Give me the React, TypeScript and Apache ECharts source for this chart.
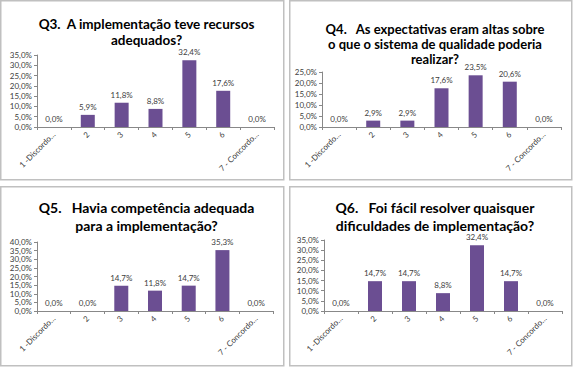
import React, { useEffect, useRef } from "react";
import * as echarts from "echarts";

const categories = ["1 -Discordo…", "2", "3", "4", "5", "6", "7 - Concordo…"];
const q3Values = [0.0, 5.9, 11.8, 8.8, 32.4, 17.6, 0.0];
const q4Values = [0.0, 2.9, 2.9, 17.6, 23.5, 20.6, 0.0];
const q5Values = [0.0, 0.0, 14.7, 11.8, 14.7, 35.3, 0.0];
const q6Values = [0.0, 14.7, 14.7, 8.8, 32.4, 14.7, 0.0];
const titles = [
  "Q3.  A implementação teve recursos\nadequados?",
  "Q4.   As expectativas eram altas sobre\no que o sistema de qualidade poderia\nrealizar?",
  "Q5.   Havia competência adequada\npara a implementação?",
  "Q6.   Foi fácil resolver quaisquer\ndificuldades de implementação?",
];
const yMax = [35, 25, 40, 35];

const fmt = (v: number) => v.toFixed(1).replace(".", ",") + "%";

export default function App() {
  const ref = useRef<HTMLDivElement>(null);
  useEffect(() => {
    document.body.style.margin = "0";
    const chart = echarts.init(ref.current!, undefined, { renderer: "svg" });
    const panels = [
      { x: 0, y: 0, w: 283, h: 179 },
      { x: 289, y: 0, w: 282, h: 179 },
      { x: 0, y: 186, w: 283, h: 179 },
      { x: 289, y: 186, w: 282, h: 179 },
    ];
    const grids = [
      { left: 37, top: 55, width: 237, height: 72 },
      { left: 322, top: 72, width: 239, height: 55 },
      { left: 37, top: 242, width: 236, height: 69 },
      { left: 324, top: 240, width: 238, height: 71 },
    ];
    const titleTops = [11, 16, 193, 193];
    const fontSizes = [13.5, 13, 14, 14];
    const lineHeights = [16, 15, 18, 18];
    const data = [q3Values, q4Values, q5Values, q6Values];
    const font = "Lato, 'Open Sans', sans-serif";
    chart.setOption({
      animation: false,
      title: titles.map((t, i) => ({
        text: t,
        left: panels[i].x + panels[i].w / 2,
        top: titleTops[i],
        textAlign: "center",
        textStyle: {
          fontFamily: font,
          fontSize: fontSizes[i],
          fontWeight: "bold",
          color: "#000",
          lineHeight: lineHeights[i],
        },
      })),
      graphic: panels.map((p) => ({
        type: "rect",
        shape: { x: p.x + 0.75, y: p.y + 0.75, width: p.w, height: p.h },
        style: { fill: "none", stroke: "#c0c0c0", lineWidth: 1.5 },
        silent: true,
      })),
      grid: grids,
      xAxis: grids.map((_, i) => ({
        type: "category",
        gridIndex: i,
        data: categories,
        axisLine: { lineStyle: { color: "#888888", width: 1 } },
        axisTick: { show: true, length: 3, lineStyle: { color: "#888888" } },
        axisLabel: {
          interval: 0,
          rotate: 45,
          fontSize: 8,
          color: "#404040",
          fontFamily: font,
          margin: 6,
        },
      })),
      yAxis: grids.map((_, i) => ({
        type: "value",
        gridIndex: i,
        min: 0,
        max: yMax[i],
        interval: 5,
        splitLine: { show: false },
        axisLine: { show: true, lineStyle: { color: "#888888", width: 1 } },
        axisTick: { show: true, length: 3, lineStyle: { color: "#888888" } },
        axisLabel: {
          fontSize: 8,
          color: "#404040",
          fontFamily: font,
          margin: 5,
          formatter: (v: number) => fmt(v),
        },
      })),
      series: data.map((d, i) => ({
        type: "bar",
        xAxisIndex: i,
        yAxisIndex: i,
        data: d,
        barWidth: 14,
        itemStyle: { color: "#6B4E92" },
        label: {
          show: true,
          position: "top",
          distance: 4,
          fontSize: 8,
          color: "#404040",
          fontFamily: font,
          formatter: (p: any) => fmt(p.value),
        },
      })),
    });
    return () => chart.dispose();
  }, []);
  return <div ref={ref} style={{ width: 573, height: 367 }} />;
}
